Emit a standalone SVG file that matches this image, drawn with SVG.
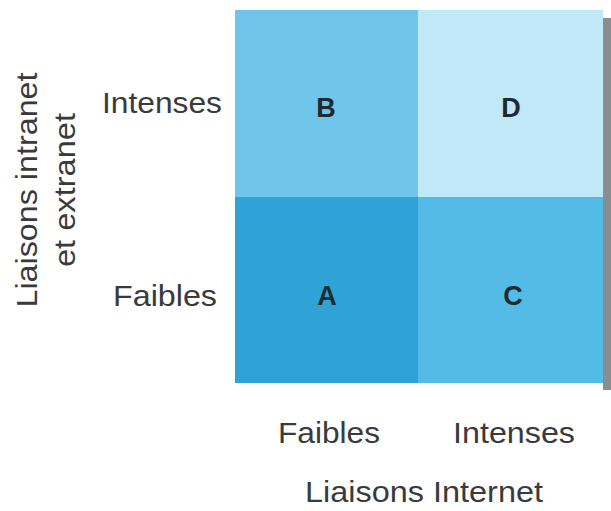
<svg xmlns="http://www.w3.org/2000/svg" width="611" height="511" viewBox="0 0 611 511">
  <style>
    .lbl { font-family: "Liberation Sans", Arial, sans-serif; font-size: 30px; fill: #3a3a3a; }
    .cell-letter { font-family: "Liberation Sans", Arial, sans-serif; font-size: 27px; font-weight: bold; fill: #1e2a30; text-anchor: middle; }
  </style>
  <rect width="611" height="511" fill="#ffffff"/>
  <!-- page edge shadow on the right -->
  <rect x="603" y="18" width="8" height="372" fill="#8a8d90"/>

  <!-- quadrants -->
  <g id="cell-B">
    <rect x="235" y="10" width="183" height="187" fill="#70c5ea"/>
    <text class="cell-letter" x="326" y="117">B</text>
  </g>
  <g id="cell-D">
    <rect x="418" y="10" width="185" height="187" fill="#c0e8f7"/>
    <text class="cell-letter" x="511" y="117">D</text>
  </g>
  <g id="cell-A">
    <rect x="235" y="197" width="183" height="186" fill="#2fa3d5"/>
    <text class="cell-letter" x="327" y="305">A</text>
  </g>
  <g id="cell-C">
    <rect x="418" y="197" width="185" height="186" fill="#54bae6"/>
    <text class="cell-letter" x="513" y="305">C</text>
  </g>

  <!-- vertical axis -->
  <g id="axis-y">
    <text class="lbl" x="222" y="113" text-anchor="end" textLength="120" lengthAdjust="spacingAndGlyphs">Intenses</text>
    <text class="lbl" x="217" y="306" text-anchor="end" textLength="104" lengthAdjust="spacingAndGlyphs">Faibles</text>
    <text class="lbl" transform="translate(37 190) rotate(-90)" text-anchor="middle" textLength="235" lengthAdjust="spacingAndGlyphs">Liaisons intranet</text>
    <text class="lbl" transform="translate(75 190) rotate(-90)" text-anchor="middle" textLength="154" lengthAdjust="spacingAndGlyphs">et extranet</text>
  </g>

  <!-- horizontal axis -->
  <g id="axis-x">
    <text class="lbl" x="329" y="443" text-anchor="middle" textLength="102" lengthAdjust="spacingAndGlyphs">Faibles</text>
    <text class="lbl" x="514" y="443" text-anchor="middle" textLength="122" lengthAdjust="spacingAndGlyphs">Intenses</text>
    <text class="lbl" x="424" y="502" text-anchor="middle" textLength="238" lengthAdjust="spacingAndGlyphs">Liaisons Internet</text>
  </g>
</svg>
